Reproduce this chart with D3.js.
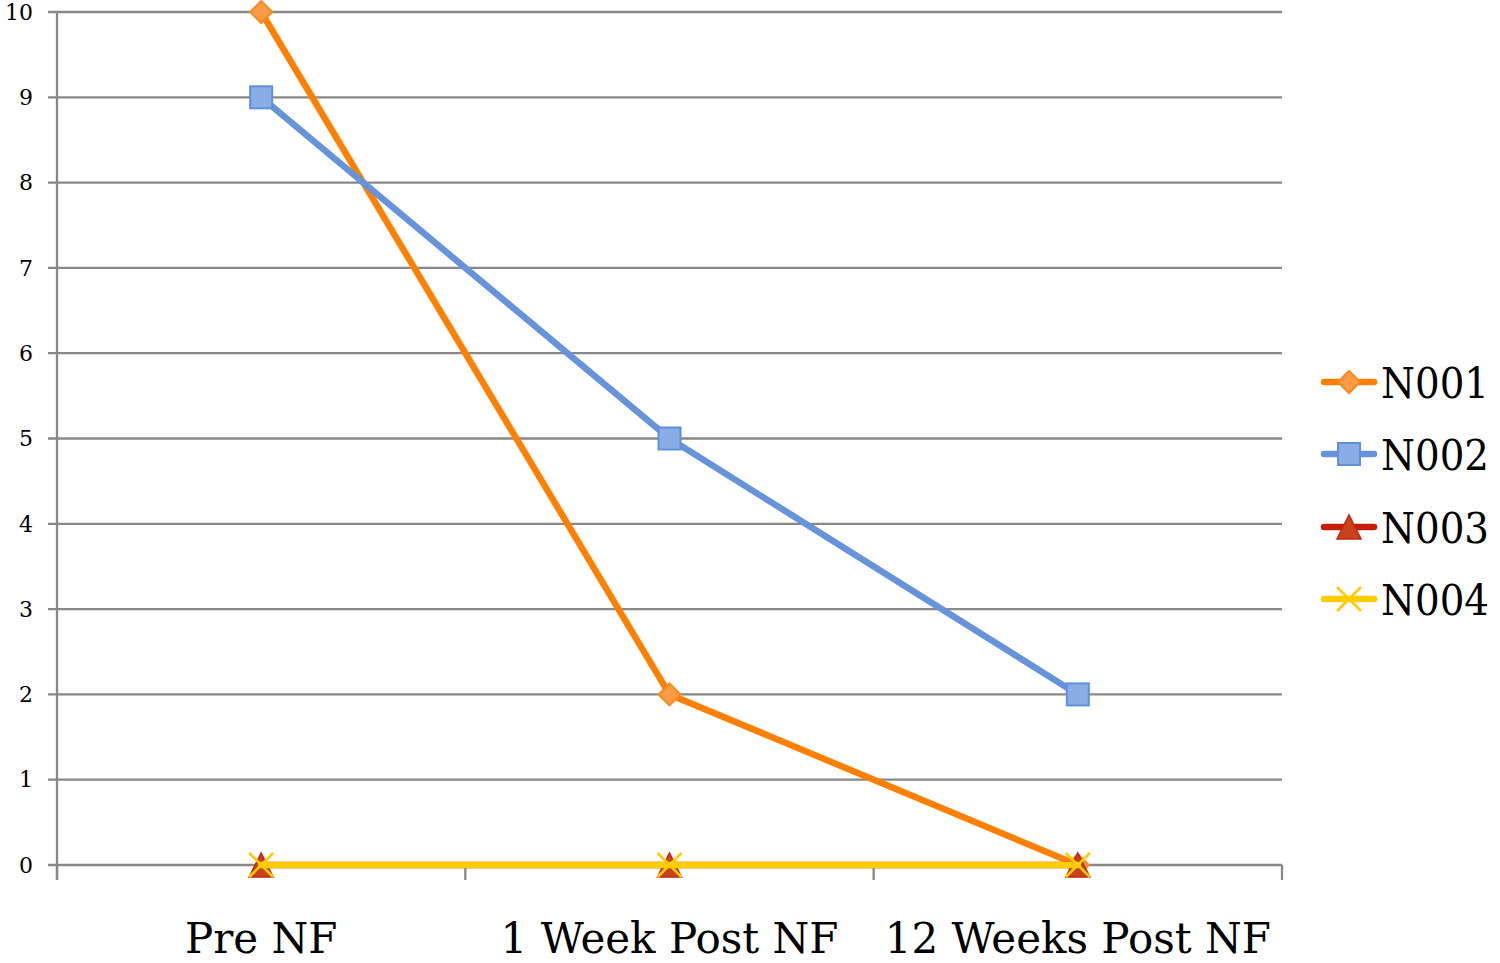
<!DOCTYPE html>
<html><head><meta charset="utf-8">
<script src="https://cdn.jsdelivr.net/npm/d3@7"></script>
<style>body{margin:0;background:#fff}svg{display:block}</style>
</head><body>
<svg id="c" width="1500" height="963"></svg>
<script>
const categories = ["Pre NF", "1 Week Post NF", "12 Weeks Post NF"];
const seriesNames = ["N001", "N002", "N003", "N004"];
const N001 = [10, 2, 0];
const N002 = [9, 5, 2];
const N003 = [0, 0, 0];
const N004 = [0, 0, 0];
const yTicks = [0,1,2,3,4,5,6,7,8,9,10];

const styles = {
  N001: {line:"#FF8000", fill:"#FF9A45", stroke:"#F58A1E", sym:"diamond"},
  N002: {line:"#6693DA", fill:"#8AADE5", stroke:"#5F90DA", sym:"square"},
  N003: {line:"#C41E0A", fill:"#C8421E", stroke:"#C2280C", sym:"triangle"},
  N004: {line:"#FFCC00", fill:"none", stroke:"#FFCC00", sym:"x"}
};
const data = {N001, N002, N003, N004};

const svg = d3.select("#c");
const L = 57, R = 1282, T = 12, B = 865;
const font = "'DejaVu Serif', serif";

const x = d3.scaleBand().domain(categories).range([L, R]).padding(0);
const y = d3.scaleLinear().domain([0, 10]).range([B, T]);

// gridlines
svg.append("g").selectAll("line").data(yTicks).join("line")
  .attr("x1", L - 9).attr("x2", R).attr("y1", d => y(d)).attr("y2", d => y(d))
  .attr("stroke", "#888888").attr("stroke-width", 2.3);
// y axis line
svg.append("line").attr("x1", L).attr("x2", L).attr("y1", T).attr("y2", B + 15)
  .attr("stroke", "#888888").attr("stroke-width", 2.3);
// x ticks
const bounds = categories.map(c => x(c)).concat([R]);
svg.append("g").selectAll("line").data(bounds).join("line")
  .attr("x1", d => d).attr("x2", d => d).attr("y1", B).attr("y2", B + 15)
  .attr("stroke", "#888888").attr("stroke-width", 2.3);

// y labels
svg.append("g").selectAll("text").data(yTicks).join("text")
  .attr("x", 33).attr("y", d => y(d)).attr("dy", "0.35em")
  .attr("text-anchor", "end").attr("font-family", font).attr("font-size", 22)
  .attr("fill", "#000").text(d => d);

// x labels
svg.append("g").selectAll("text").data(categories).join("text")
  .attr("x", d => x(d) + x.bandwidth() / 2).attr("y", 953)
  .attr("text-anchor", "middle").attr("font-family", font).attr("font-size", 42)
  .attr("fill", "#000").text(d => d)
  .each(function(){ const w = this.getComputedTextLength(); if (w > 398) d3.select(this).attr("textLength", 398).attr("lengthAdjust","spacingAndGlyphs"); });

const cx = c => x(c) + x.bandwidth() / 2;

function marker(g, name, px, py) {
  const s = styles[name];
  if (s.sym === "diamond") {
    g.append("path").attr("d", `M${px},${py-11}L${px+11},${py}L${px},${py+11}L${px-11},${py}Z`)
      .attr("fill", s.fill).attr("stroke", s.stroke).attr("stroke-width", 2);
  } else if (s.sym === "square") {
    g.append("rect").attr("x", px - 11).attr("y", py - 11).attr("width", 22).attr("height", 22)
      .attr("fill", s.fill).attr("stroke", s.stroke).attr("stroke-width", 2);
  } else if (s.sym === "triangle") {
    g.append("path").attr("d", `M${px},${py-12}L${px+12},${py+12}L${px-12},${py+12}Z`)
      .attr("fill", s.fill).attr("stroke", s.stroke).attr("stroke-width", 1.5);
  } else {
    g.append("path").attr("d", `M${px-12},${py-12}L${px+12},${py+12}M${px+12},${py-12}L${px-12},${py+12}`)
      .attr("stroke", s.stroke).attr("stroke-width", 2.5).attr("fill", "none");
  }
}

const line = d3.line().x((d, i) => cx(categories[i])).y(d => y(d));
seriesNames.forEach(name => {
  const g = svg.append("g");
  g.append("path").datum(data[name]).attr("d", line)
    .attr("fill", "none").attr("stroke", styles[name].line).attr("stroke-width", 6.5)
    .attr("stroke-linejoin", "round").attr("stroke-linecap", "round");
  data[name].forEach((v, i) => marker(g, name, cx(categories[i]), y(v)));
});

// legend
const legY = [382, 454, 527, 599];
seriesNames.forEach((name, i) => {
  const g = svg.append("g");
  const ly = legY[i];
  g.append("line").attr("x1", 1324).attr("x2", 1374).attr("y1", ly).attr("y2", ly)
    .attr("stroke", styles[name].line).attr("stroke-width", 6.5).attr("stroke-linecap", "round");
  marker(g, name, 1349, ly);
  g.append("text").attr("x", 1381).attr("y", ly + 16).attr("font-family", font)
    .attr("font-size", 42).attr("fill", "#000").text(name)
    .each(function(){ const w = this.getComputedTextLength(); if (w > 108) d3.select(this).attr("textLength", 108).attr("lengthAdjust","spacingAndGlyphs"); });
});
</script>
</body></html>
